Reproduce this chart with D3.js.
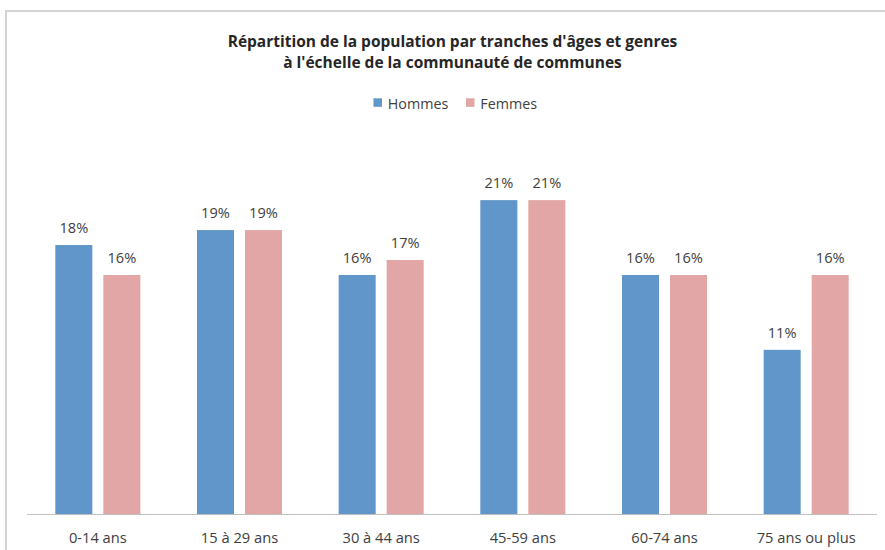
<!DOCTYPE html>
<html>
<head>
<meta charset="utf-8">
<script src="https://cdn.jsdelivr.net/npm/d3@7"></script>
<style>
  body { margin: 0; background: #fff; }
  svg { display: block; font-family: "Open Sans", sans-serif; }
</style>
</head>
<body>
<div id="chart-container"></div>
<script>
// Données du graphique
const categories = ["0-14 ans", "15 à 29 ans", "30 à 44 ans", "45-59 ans", "60-74 ans", "75 ans ou plus"];
const series = ["Hommes", "Femmes"];
const hommes = [18, 19, 16, 21, 16, 11];
const femmes = [16, 19, 17, 21, 16, 16];
const titleLines = ["Répartition de la population par tranches d'âges et genres",
                    "à l'échelle de la communauté de communes"];

const colors = { Hommes: "#6096c9", Femmes: "#e1a6a5" };

function drawChart() {
    const width = 885, height = 550;
    const plot = { left: 27, right: 877, bottom: 514.5, top: 140.25 };

    const svg = d3.select("#chart-container")
        .append("svg")
        .attr("width", width)
        .attr("height", height);

    // Cadre du graphique
    svg.append("path")
        .attr("d", "M6," + height + "V11H" + width)
        .attr("fill", "none")
        .attr("stroke", "#d3d3d3")
        .attr("stroke-width", 2);

    // Echelles
    const x0 = d3.scaleBand()
        .domain(categories)
        .range([plot.left, plot.right])
        .padding(0);

    const x1 = d3.scaleBand()
        .domain(series)
        .range([0, x0.bandwidth()])
        .paddingInner(0.229)
        .paddingOuter(0.59);

    const y = d3.scaleLinear()
        .domain([0, 25])
        .range([plot.bottom, plot.top]);

    const data = categories.map((c, i) => ({
        category: c,
        values: [
            { key: "Hommes", value: hommes[i] },
            { key: "Femmes", value: femmes[i] }
        ]
    }));

    // Titre
    svg.append("text")
        .attr("x", 452.5)
        .attr("y", 46.5)
        .attr("text-anchor", "middle")
        .style("font-size", "15.5px")
        .style("font-weight", "bold")
        .attr("fill", "#262626")
        .selectAll("tspan")
        .data(titleLines)
        .enter().append("tspan")
        .attr("x", 452.5)
        .attr("dy", (d, i) => i === 0 ? 0 : 21.5)
        .text(d => d);

    // Légende
    const legendX = [373.5, 466];
    const legend = svg.append("g");
    series.forEach((s, i) => {
        legend.append("rect")
            .attr("x", legendX[i])
            .attr("y", 98.3)
            .attr("width", 8.5)
            .attr("height", 8.5)
            .attr("fill", colors[s]);
        legend.append("text")
            .attr("x", legendX[i] + 14.3)
            .attr("y", 109.3)
            .style("font-size", "14.3px")
            .attr("fill", "#404040")
            .text(s);
    });

    // Barres
    const groups = svg.selectAll(".group")
        .data(data)
        .enter().append("g")
        .attr("class", "group")
        .attr("transform", d => "translate(" + x0(d.category) + ",0)");

    groups.selectAll("rect")
        .data(d => d.values)
        .enter().append("rect")
        .attr("x", d => x1(d.key))
        .attr("width", x1.bandwidth())
        .attr("y", d => y(d.value))
        .attr("height", d => y(0) - y(d.value))
        .attr("fill", d => colors[d.key]);

    // Etiquettes de valeurs
    groups.selectAll(".label")
        .data(d => d.values)
        .enter().append("text")
        .attr("class", "label")
        .attr("x", d => x1(d.key) + x1.bandwidth() / 2)
        .attr("y", d => y(d.value) - 12)
        .attr("text-anchor", "middle")
        .style("font-size", "14.6px")
        .attr("fill", "#404040")
        .text(d => d3.format(".0f")(d.value) + "%");

    // Axe des x
    const xAxis = svg.append("g")
        .attr("class", "x axis")
        .attr("transform", "translate(0," + plot.bottom + ")")
        .call(d3.axisBottom(x0).tickSize(0).tickPadding(0));

    xAxis.select(".domain")
        .attr("stroke", "#bfbfbf")
        .attr("d", "M" + plot.left + ",0H" + plot.right);

    xAxis.selectAll("text")
        .attr("dy", null)
        .attr("y", 28.5)
        .style("font-size", "14.7px")
        .style("font-family", "'Open Sans', sans-serif")
        .attr("fill", "#404040");
}

document.addEventListener("DOMContentLoaded", drawChart);
</script>
</body>
</html>
